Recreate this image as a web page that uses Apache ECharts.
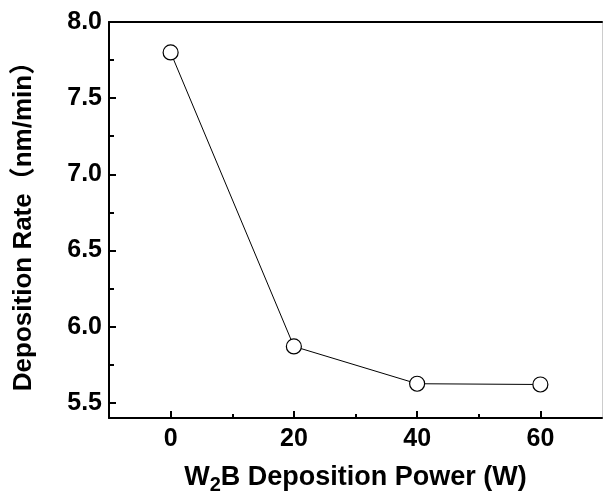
<!DOCTYPE html>
<html>
<head>
<meta charset="utf-8">
<script src="https://cdn.jsdelivr.net/npm/echarts@6/dist/echarts.min.js"></script>
<style>
  html, body { margin: 0; padding: 0; background: #fff; }
  #chart { width: 603px; height: 501px; }
</style>
</head>
<body>
<div id="chart"></div>
<script>
// data
var powers = [0, 20, 40, 60];
var rates = [7.80, 5.87, 5.625, 5.62];
var yTicks = [5.5, 6.0, 6.5, 7.0, 7.5, 8.0];
var yMinorTicks = [5.75, 6.25, 6.75, 7.25, 7.75];
var xTicks = [0, 20, 40, 60];
var xMinorTicks = [10, 30, 50];

var font = 'Liberation Sans, Arial, Noto Sans CJK SC, sans-serif';
var myChart = echarts.init(document.getElementById('chart'));

var points = powers.map(function (p, i) { return [p, rates[i]]; });

// extra axes only used for the frame and the short minor ticks
function bare(pos, extra) {
  var ax = {
    type: 'value',
    min: pos === 'top' || pos === 'bottom' ? -10 : 5.4,
    max: pos === 'top' || pos === 'bottom' ? 70 : 8.0,
    position: pos,
    axisLine: { show: false, onZero: false },
    axisTick: { show: false },
    axisLabel: { show: false },
    splitLine: { show: false }
  };
  return Object.assign(ax, extra || {});
}

myChart.setOption({
  animation: false,
  textStyle: { fontFamily: font, color: '#000' },
  grid: { left: 109, right: 1, top: 22, bottom: 83, containLabel: false },
  xAxis: [
    {
      type: 'value',
      min: -10,
      max: 70,
      position: 'bottom',
      axisLine: { show: true, onZero: false, lineStyle: { color: '#000', width: 2 } },
      axisTick: { show: true, inside: true, length: 7, customValues: xTicks, lineStyle: { color: '#000', width: 2 } },
      splitLine: { show: false },
      axisLabel: {
        customValues: xTicks,
        margin: 9,
        fontSize: 25,
        fontWeight: 'bold',
        color: '#000',
        fontFamily: font
      },
      name: '{a|W}{s|2}{a|B Deposition Power (W)}',
      nameLocation: 'middle',
      nameGap: 46,
      nameTextStyle: {
        rich: {
          a: { fontSize: 27, fontWeight: 'bold', fontFamily: font, color: '#000', lineHeight: 30, verticalAlign: 'top' },
          s: { fontSize: 20, fontWeight: 'bold', fontFamily: font, color: '#000', lineHeight: 30, verticalAlign: 'top', padding: [11, 0, 0, 0] }
        }
      }
    },
    bare('top', { axisLine: { show: true, onZero: false, lineStyle: { color: '#000', width: 2 } } }),
    bare('bottom', { axisTick: { show: true, inside: true, length: 4, customValues: xMinorTicks, lineStyle: { color: '#000', width: 2 } } })
  ],
  yAxis: [
    {
      type: 'value',
      min: 5.4,
      max: 8.0,
      position: 'left',
      axisLine: { show: true, onZero: false, lineStyle: { color: '#000', width: 2 } },
      axisTick: { show: true, inside: true, length: 7, customValues: yTicks, lineStyle: { color: '#000', width: 2 } },
      splitLine: { show: false },
      axisLabel: {
        customValues: yTicks,
        margin: 7,
        fontSize: 25,
        fontWeight: 'bold',
        color: '#000',
        fontFamily: font,
        formatter: function (v) { return v.toFixed(1); }
      },
      name: 'Deposition Rate（nm/min）',
      nameLocation: 'middle',
      nameGap: 72,
      nameTextStyle: { fontSize: 26, fontWeight: 'bold', color: '#000', fontFamily: font }
    },
    bare('right', { axisLine: { show: true, onZero: false, lineStyle: { color: '#ccc', width: 1 } } }),
    bare('left', { axisTick: { show: true, inside: true, length: 5, customValues: yMinorTicks, lineStyle: { color: '#000', width: 2 } } })
  ],
  series: [
    {
      type: 'line',
      data: points,
      symbol: 'circle',
      symbolSize: 15,
      itemStyle: { color: '#fff', borderColor: '#000', borderWidth: 1.2 },
      lineStyle: { color: '#000', width: 1 }
    }
  ]
});
</script>
</body>
</html>
